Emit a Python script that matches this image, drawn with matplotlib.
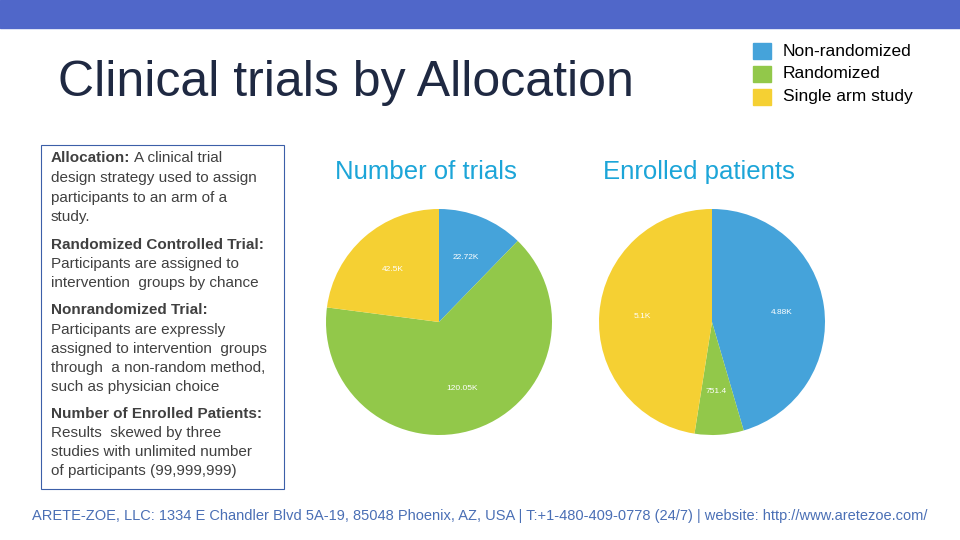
import matplotlib.pyplot as plt
from matplotlib.patches import Rectangle

plt.rcParams['font.family'] = ['Liberation Sans', 'DejaVu Sans']

categories = ['Non-randomized', 'Randomized', 'Single arm study']
colors = ['#45A3DA', '#92C84A', '#F5D033']
trials = [22720, 120050, 42500]
trial_labels = ['22.72K', '120.05K', '42.5K']
patients = [4880, 751.4, 5100]
patient_labels = ['4.88K', '751.4', '5.1K']

W, H = 960, 540
fig = plt.figure(figsize=(9.6, 5.4), dpi=100)
fig.patch.set_facecolor('white')

def fy(y):
    return 1 - y / H

def px(x):
    return x / W

# top band
fig.patches.append(Rectangle((0, fy(28)), 1, 28 / H, transform=fig.transFigure,
                             color='#5067C9', zorder=0))
fig.text(px(58), fy(83), 'Clinical trials by Allocation', fontsize=36,
         color='#1F2942', va='center', ha='left')

# legend
for i, (cat, c) in enumerate(zip(categories, colors)):
    y = 51 + i * 23
    fig.patches.append(Rectangle((px(753), fy(y + 8)), 18 / W, 16 / H,
                                 transform=fig.transFigure, color=c))
    fig.text(px(783), fy(y), cat, fontsize=12.5, va='center', ha='left')

# pies
for cx, vals, labs, title in [(439, trials, trial_labels, 'Number of trials'),
                              (712, patients, patient_labels, 'Enrolled patients')]:
    r = 113
    ax = fig.add_axes([px(cx - r), fy(322 + r), 2 * r / W, 2 * r / H])
    ax.pie(vals, colors=colors, startangle=90, counterclock=False,
           labels=labs, labeldistance=0.62,
           textprops={'color': 'white', 'fontsize': 6, 'ha': 'center'})
    ax.set_xlim(-1, 1)
    ax.set_ylim(-1, 1)
    ax.set_aspect('equal')
    fig.text(px(cx - 13), fy(172), title, fontsize=18.5, color='#1CA5D8',
             ha='center', va='center')

# info box
fig.patches.append(Rectangle((px(41), fy(489)), 243 / W, 344 / H,
                             transform=fig.transFigure, fill=False,
                             edgecolor='#3C5FA8', lw=0.8))
lines = [
    (158, 'Allocation:', True), (178, 'design strategy used to assign', False),
    (198, 'participants to an arm of a', False), (217, 'study.', False),
    (245, 'Randomized Controlled Trial:', True), (264, 'Participants are assigned to', False),
    (283, 'intervention  groups by chance', False),
    (310, 'Nonrandomized Trial:', True), (330, 'Participants are expressly', False),
    (349, 'assigned to intervention  groups', False), (368, 'through  a non-random method,', False),
    (387, 'such as physician choice', False),
    (414, 'Number of Enrolled Patients:', True), (433, 'Results  skewed by three', False),
    (452, 'studies with unlimited number', False), (471, 'of participants (99,999,999)', False),
]
for y, t, bold in lines:
    fig.text(px(51), fy(y), t, fontsize=11, color='#404040',
             fontweight='bold' if bold else 'normal', va='center')
fig.text(px(134), fy(158), 'A clinical trial', fontsize=11, color='#404040', va='center')

fig.text(px(480), fy(516),
         'ARETE-ZOE, LLC: 1334 E Chandler Blvd 5A-19, 85048 Phoenix, AZ, USA | '
         'T:+1-480-409-0778 (24/7) | website: http://www.aretezoe.com/',
         fontsize=10.5, color='#4A6FB5', ha='center', va='center')

fig.savefig('out.png', dpi=100)
